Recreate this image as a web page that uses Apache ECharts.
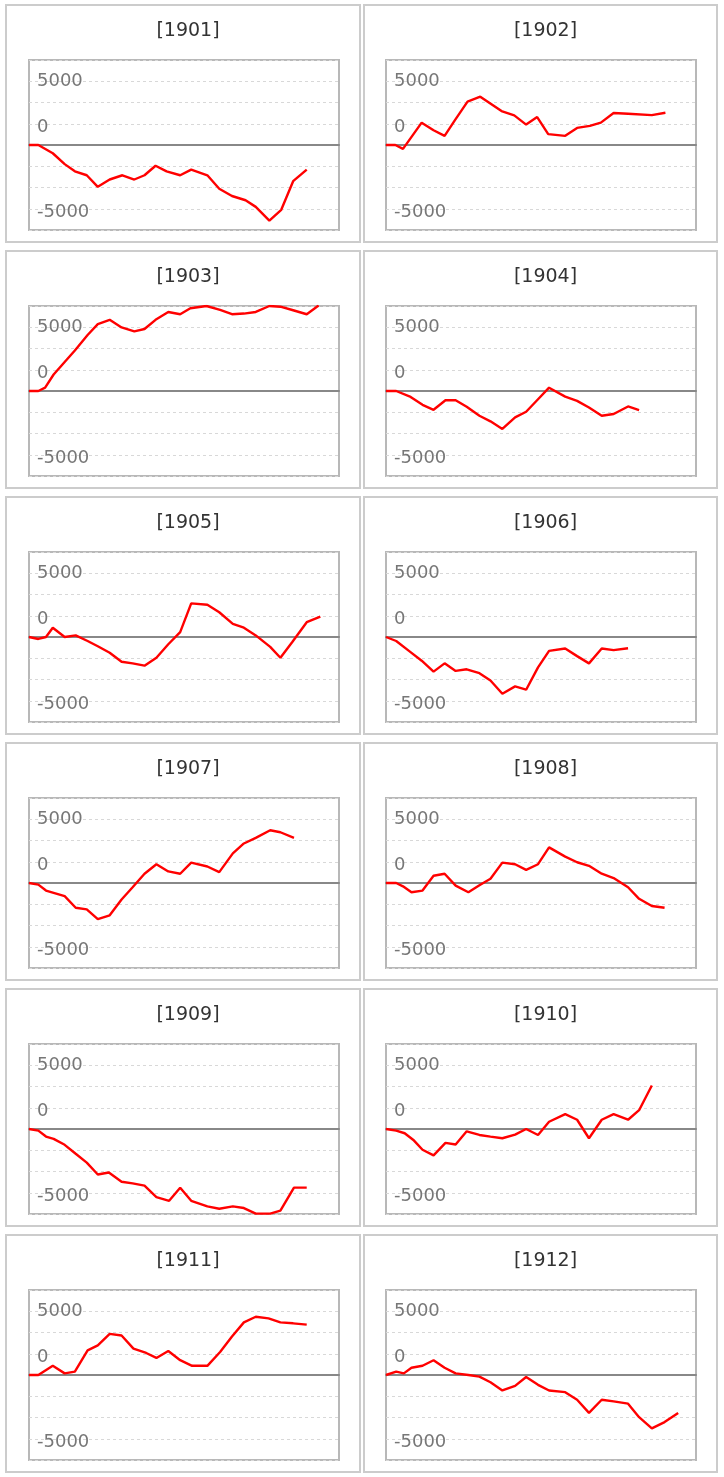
<!DOCTYPE html>
<html>
<head>
<meta charset="utf-8">
<script src="https://cdn.jsdelivr.net/npm/echarts@6/dist/echarts.min.js"></script>
<style>
html,body{margin:0;padding:0;background:#fff;}
#chart{width:724px;height:1477px;}
</style>
</head>
<body>
<div id="chart"></div>
<script>
// Panel titles
const years = ['1901','1902','1903','1904','1905','1906','1907','1908','1909','1910','1911','1912'];

// Y tick labels (as displayed in reference)
const tickValues = [7500, 2500, -7500];
const tickTexts = ['5000', '0', '-5000'];

// Data: day of year and cumulative value
const days1901 = [0,11,28,42,54,68,81,95,110,124,136,149,162,178,191,210,224,239,255,267,283,297,311,327];
const vals1901 = [0,0,-970,-2250,-3100,-3560,-4920,-4060,-3560,-4060,-3560,-2440,-3100,-3560,-2900,-3560,-5150,-6000,-6500,-7280,-8900,-7620,-4260,-2900];

const days1902 = [0,11,20,42,56,69,81,96,111,136,151,165,178,191,211,225,240,253,268,285,313,329];
const vals1902 = [0,0,-460,2630,1740,1080,2900,5110,5690,3990,3480,2400,3290,1280,1080,2010,2250,2630,3760,3680,3520,3790];

const days1903 = [0,11,19,29,42,54,69,81,95,109,124,136,149,164,178,190,209,225,239,253,267,283,296,311,327,341];
const vals1903 = [0,0,390,1940,3410,4770,6590,7870,8370,7480,7020,7290,8370,9300,9030,9730,10000,9540,9030,9110,9300,10000,9920,9500,9030,10050];

const days1904 = [0,12,29,43,56,70,82,95,110,123,137,152,165,179,192,211,225,239,254,268,285,298];
const vals1904 = [0,0,-700,-1630,-2210,-1090,-1090,-1860,-2910,-3570,-4460,-3100,-2440,-970,390,-660,-1160,-1940,-2910,-2710,-1820,-2250];

const days1905 = [0,11,20,28,42,55,69,81,95,109,122,136,150,164,178,191,210,224,240,253,267,284,296,310,327,343];
const vals1905 = [0,-230,0,1090,0,190,-470,-1090,-1860,-2910,-3100,-3370,-2440,-850,580,3950,3800,2910,1550,1090,190,-1160,-2440,-580,1740,2400];

const days1906 = [0,12,27,42,56,69,82,95,110,123,137,152,165,179,192,211,225,239,254,268,285];
const vals1906 = [0,-470,-1630,-2790,-4070,-3100,-3990,-3800,-4260,-5120,-6670,-5810,-6200,-3570,-1630,-1360,-2250,-3100,-1360,-1550,-1320];

const days1907 = [0,11,20,29,42,55,68,81,95,109,122,136,150,164,178,191,210,224,240,253,267,284,296,312];
const vals1907 = [0,-190,-890,-1160,-1550,-2910,-3100,-4260,-3800,-1940,-500,1090,2210,1360,1090,2400,1940,1280,3490,4650,5310,6200,5970,5310];

const days1908 = [0,12,20,30,43,56,69,82,97,110,123,137,152,165,179,192,211,225,239,254,268,285,298,313,328];
const vals1908 = [0,0,-390,-1090,-890,850,1090,-310,-1090,-270,500,2400,2210,1550,2210,4190,3100,2440,2020,1090,580,-500,-1860,-2710,-2910];

const days1909 = [0,11,20,29,42,55,68,81,94,109,122,136,150,165,178,191,210,224,240,253,267,284,296,312,327];
const vals1909 = [0,-190,-890,-1160,-1860,-2910,-3950,-5350,-5120,-6200,-6400,-6670,-8020,-8450,-6900,-8450,-9110,-9380,-9110,-9300,-9960,-9960,-9610,-6900,-6900];

const days1910 = [0,12,22,33,43,56,70,82,95,110,123,137,152,165,179,192,211,225,239,254,268,285,298,313];
const vals1910 = [0,-190,-500,-1360,-2440,-3100,-1630,-1820,-270,-700,-890,-1090,-660,0,-700,850,1740,1090,-1090,1090,1740,1090,2210,5120];

const days1911 = [0,11,28,42,54,69,81,95,109,123,138,150,164,178,192,210,225,239,253,267,282,296,311,327];
const vals1911 = [0,0,1080,190,390,2900,3480,4840,4640,3100,2590,2010,2830,1740,1080,1080,2710,4530,6190,6850,6660,6190,6080,5920];

const days1912 = [0,12,21,30,43,56,69,82,97,110,123,137,152,165,179,192,211,225,239,254,268,285,298,313,328,344];
const vals1912 = [0,390,190,850,1090,1740,850,190,0,-190,-850,-1820,-1280,-230,-1160,-1820,-2020,-2910,-4460,-2910,-3100,-3370,-4960,-6280,-5540,-4460];

const allDays = [days1901,days1902,days1903,days1904,days1905,days1906,days1907,days1908,days1909,days1910,days1911,days1912];
const allVals = [vals1901,vals1902,vals1903,vals1904,vals1905,vals1906,vals1907,vals1908,vals1909,vals1910,vals1911,vals1912];

const chart = echarts.init(document.getElementById('chart'), null, {renderer:'canvas'});

const grids = [], xAxes = [], yAxes = [], series = [], titles = [], graphics = [];
const FONT = '"DejaVu Sans", Verdana, sans-serif';

years.forEach((y, i) => {
  const col = i % 2, row = Math.floor(i / 2);
  const panelX = col === 0 ? 6 : 364;
  const panelW = col === 0 ? 354 : 353;
  const panelY = 5 + 246 * row;
  graphics.push({
    type: 'rect', z: -10, silent: true,
    shape: {x: panelX, y: panelY, width: panelW, height: 237},
    style: {fill: '#fff', stroke: '#cccccc', lineWidth: 2}
  });
  titles.push({
    text: '[' + y + ']',
    left: panelX + panelW / 2,
    top: panelY + 12,
    textAlign: 'center',
    textStyle: {fontFamily: FONT, fontSize: 19, fontWeight: 'normal', color: '#333'}
  });
  grids.push({
    left: col === 0 ? 29 : 386,
    top: panelY + 55,
    width: 310,
    height: 170,
    show: true,
    borderColor: '#b8b8b8',
    borderWidth: 2,
    backgroundColor: 'transparent',
    containLabel: false
  });
  xAxes.push({
    type: 'value', gridIndex: i, min: 0, max: 365,
    axisLine: {show: true, onZero: true, lineStyle: {color: '#888', width: 2}},
    axisTick: {show: false}, axisLabel: {show: false}, splitLine: {show: false}
  });
  yAxes.push({
    type: 'value', gridIndex: i, min: -10000, max: 10000, interval: 2500,
    axisLine: {show: false}, axisTick: {show: false},
    splitLine: {show: true, lineStyle: {color: '#d8d8d8', type: [3, 3], width: 1}},
    axisLabel: {
      inside: true, margin: 8, color: '#777', fontFamily: FONT, fontSize: 18,
      formatter: v => {
        const k = tickValues.indexOf(v);
        if (k < 0) return '';
        return k === 0 ? '{hi|' + tickTexts[k] + '}' : '{lo|' + tickTexts[k] + '}';
      },
      rich: {
        hi: {color: '#777', fontFamily: FONT, fontSize: 18},
        lo: {color: '#777', fontFamily: FONT, fontSize: 18, padding: [8, 0, 0, 0]}
      }
    }
  });
  series.push({
    type: 'line', xAxisIndex: i, yAxisIndex: i,
    data: allDays[i].map((d, j) => [d, allVals[i][j]]),
    showSymbol: false, symbol: 'none',
    lineStyle: {color: '#ff0000', width: 2.4},
    clip: true, z: 5
  });
});

chart.setOption({
  animation: false,
  backgroundColor: '#fff',
  title: titles,
  grid: grids,
  xAxis: xAxes,
  yAxis: yAxes,
  series: series,
  graphic: graphics
});
</script>
</body>
</html>
